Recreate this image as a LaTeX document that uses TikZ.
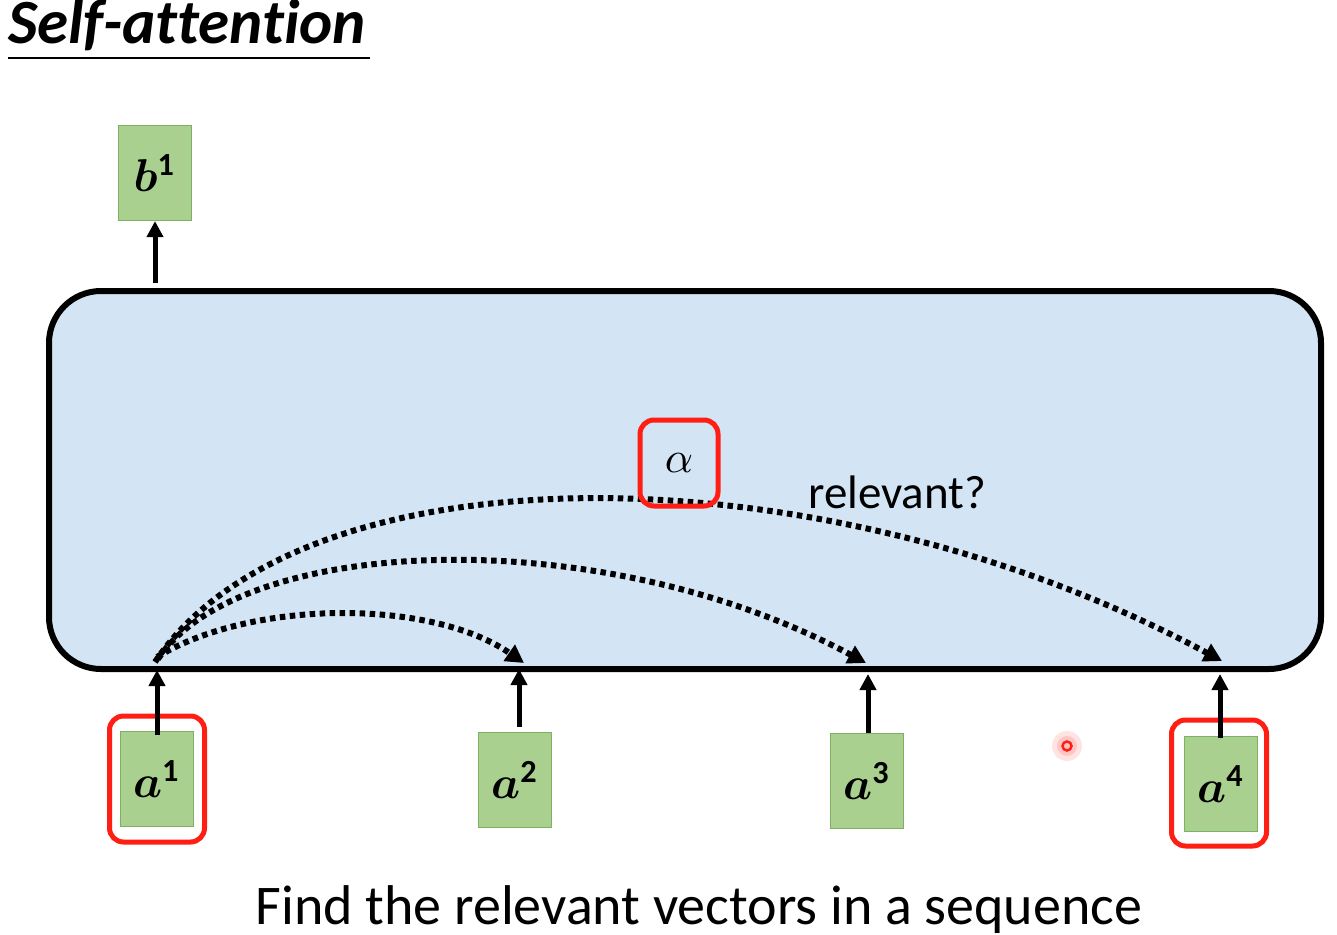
\documentclass[tikz,border=0pt]{standalone}
\usepackage{amsmath,bm,graphicx}
\usepackage{fontspec}
\setmainfont{Carlito}
\usetikzlibrary{arrows.meta}
\definecolor{vecfill}{RGB}{169,208,142}
\definecolor{vecline}{RGB}{125,178,98}
\definecolor{boxfill}{RGB}{211,228,245}
\definecolor{hlred}{RGB}{255,30,20}
\newcommand{\bigmath}[1]{\scalebox{4.6}{$#1$}}
\tikzset{
  vec/.style={draw=vecline, line width=1.2pt, fill=vecfill, minimum width=73pt, minimum height=95pt, inner sep=0pt},
  hl/.style={draw=hlred, line width=5pt, rounded corners=14pt, fill=none},
  up/.style={-{Triangle[length=16pt,width=16pt]}, line width=5pt},
  att/.style={-{Triangle[length=18pt,width=19pt]}, line width=6pt, dash pattern=on 5.5pt off 4.5pt},
}
\begin{document}
\begin{tikzpicture}[x=1pt,y=-1pt]
\useasboundingbox (0,0) rectangle (1337,934);
% title
\node[anchor=base west, inner sep=0pt, font=\fontsize{63}{66}\selectfont\bfseries\itshape\addfontfeatures{Ligatures=NoCommon}] (title) at (8,44) {Self-attention};
\draw[line width=1.8pt] (8,58) -- (370,58);
% big box
\node[draw, line width=6pt, fill=boxfill, rounded corners=52pt, minimum width=1272pt, minimum height=378pt] (layer) at (685,480) {};
% vectors
\node[vec] (b1) at (155,173) {\bigmath{\bm{b}^{\mathbf{1}}}};
\node[vec] (a1) at (157,779) {\bigmath{\bm{a}^{\mathbf{1}}}};
\node[vec] (a2) at (515,780) {\bigmath{\bm{a}^{\mathbf{2}}}};
\node[vec] (a3) at (867,781) {\bigmath{\bm{a}^{\mathbf{3}}}};
\node[vec] (a4) at (1221,784) {\bigmath{\bm{a}^{\mathbf{4}}}};
% highlight frames
\node[hl, minimum width=95pt, minimum height=126pt] (h1) at (157,779) {};
\node[hl, minimum width=95pt, minimum height=126pt] (h4) at (1219,783) {};
% input/output arrows
\coordinate (o1) at (155,283);
\coordinate (i1) at (157,670);
\coordinate (i2) at (519,669);
\coordinate (i3) at (868,674);
\coordinate (i4) at (1220,674);
\draw[up] (o1) -- (b1.south);
\draw[up] ([yshift=-4pt]a1.north) -- (i1);
\draw[up] ([xshift=4pt,yshift=5pt]a2.north) -- (i2);
\draw[up] ([xshift=1pt]a3.north) -- (i3);
\draw[up] ([xshift=-1pt,yshift=-2pt]a4.north) -- (i4);
% attention curves
\coordinate (s) at (157,657);
\coordinate (e2) at (524,663);
\coordinate (e3) at (866,663);
\coordinate (e4) at (1222,661);
\draw[att] (s) .. controls (250,600) and (430,598) .. (e2);
\draw[att] ([xshift=1pt,yshift=-2pt]s) .. controls (240,535) and (600,520) .. (e3);
\draw[att] ([xshift=-2pt,yshift=-5pt]s) .. controls (300,445) and (820,445) .. (e4);
% alpha
\node[hl, minimum width=78pt, minimum height=86pt] (alpha) at (679,463) {\scalebox{4.4}{$\alpha$}};
\node[font=\fontsize{47}{52}\selectfont, anchor=base west, inner sep=0pt] (rel) at (808,508) {relevant?};
% pointer
\fill[hlred, opacity=0.12] (1067,746) circle (15pt);
\fill[hlred, opacity=0.15] (1067,746) circle (10pt);
\draw[hlred, line width=2.5pt] (1067,746) circle (4.5pt);
% caption
\node[font=\fontsize{56}{60}\selectfont, anchor=base, inner sep=0pt] (cap) at (699,924) {Find the relevant vectors in a sequence};
\end{tikzpicture}
\end{document}
